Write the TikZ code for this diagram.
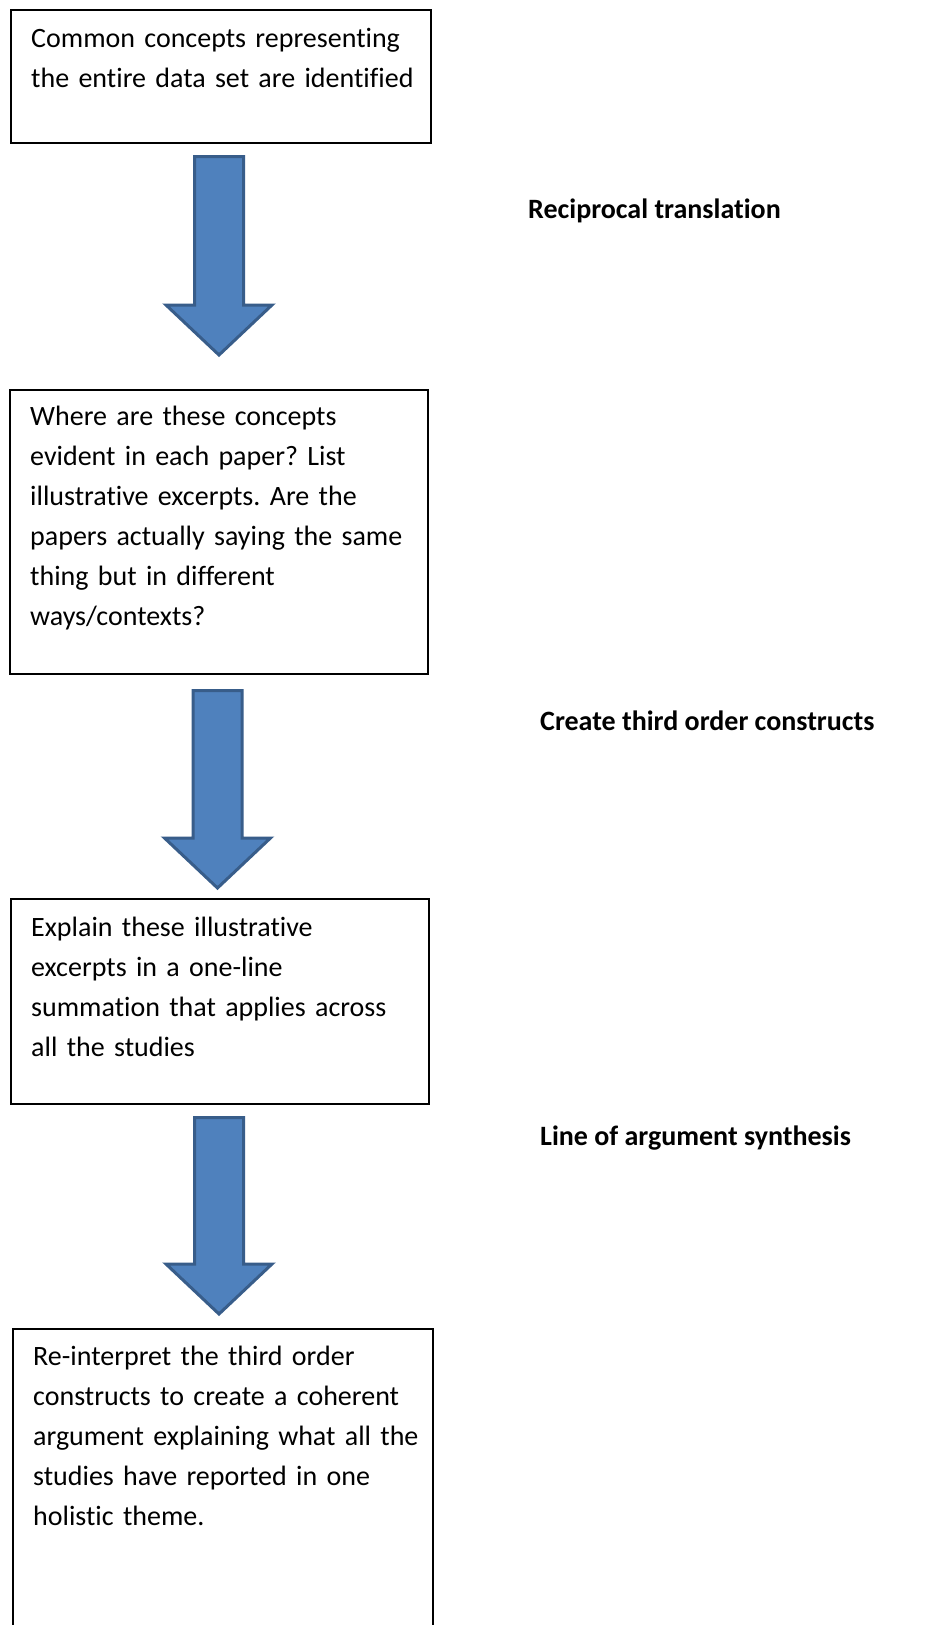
\documentclass[tikz,border=0pt]{standalone}
\usepackage{fontspec}
\setmainfont{Carlito}[RawFeature={-liga;-clig;-dlig;-calt;-hlig}]
\usetikzlibrary{calc}
\definecolor{arrfill}{HTML}{4F81BD}
\definecolor{arrline}{HTML}{385D8A}
\frenchspacing
\begin{document}
\begin{tikzpicture}[x=1pt,y=-1pt,
 box/.style={draw=black, line width=1.5pt, anchor=north west, inner sep=0pt},
 txt/.style={anchor=base west, align=left, text width=410pt, inner sep=0pt, font=\fontsize{28}{40}\selectfont},
 lbl/.style={anchor=base west, inner sep=0pt, font=\fontsize{28}{40}\selectfont\bfseries},
 blockarrow/.style={draw=arrline, fill=arrfill, line width=3pt, line join=miter,
   to path={($(\tikztostart)+(-24.5,0)$) -- ($(\tikztostart)+(24.5,0)$) -- ($(\tikztotarget)+(24.5,-50)$) -- ($(\tikztotarget)+(53,-50)$) -- (\tikztotarget) -- ($(\tikztotarget)+(-53,-50)$) -- ($(\tikztotarget)+(-24.5,-50)$) -- cycle}}]
\useasboundingbox (0,0) rectangle (930,1625);
\fill[white] (0,0) rectangle (930,1625);

\node[box, minimum width=420, minimum height=133] (b1) at (10,9) {};
\node[box, minimum width=418, minimum height=284] (b2) at (9,389) {};
\node[box, minimum width=418, minimum height=205] (b3) at (10,898) {};
\node[box, minimum width=420, minimum height=400] (b4) at (12,1328) {};

\node[txt] (t1) at (31,47) {Common concepts representing\\the entire data set are identified};
\node[txt] (t2) at (30,425) {Where are these concepts\\evident in each paper? List\\illustrative excerpts. Are the\\papers actually saying the same\\thing but in different\\ways/contexts?};
\node[txt] (t3) at (31,936) {Explain these illustrative\\excerpts in a one-line\\summation that applies across\\all the studies};
\node[txt] (t4) at (33,1365) {Re-interpret the third order\\constructs to create a coherent\\argument explaining what all the\\studies have reported in one\\holistic theme.};

\coordinate (a1s) at (219,156.5);
\coordinate (a1t) at (219,355);
\coordinate (a2s) at (217.5,690.5);
\coordinate (a2t) at (217.5,888);
\coordinate (a3s) at (219,1117.5);
\coordinate (a3t) at (219,1314);

\draw[blockarrow] (a1s) to (a1t);
\draw[blockarrow] (a2s) to (a2t);
\draw[blockarrow] (a3s) to (a3t);

\node[lbl] (l1) at (528,218) {Reciprocal translation};
\node[lbl] (l2) at (540,730) {Create third order constructs};
\node[lbl] (l3) at (540,1145) {Line of argument synthesis};
\end{tikzpicture}
\end{document}
